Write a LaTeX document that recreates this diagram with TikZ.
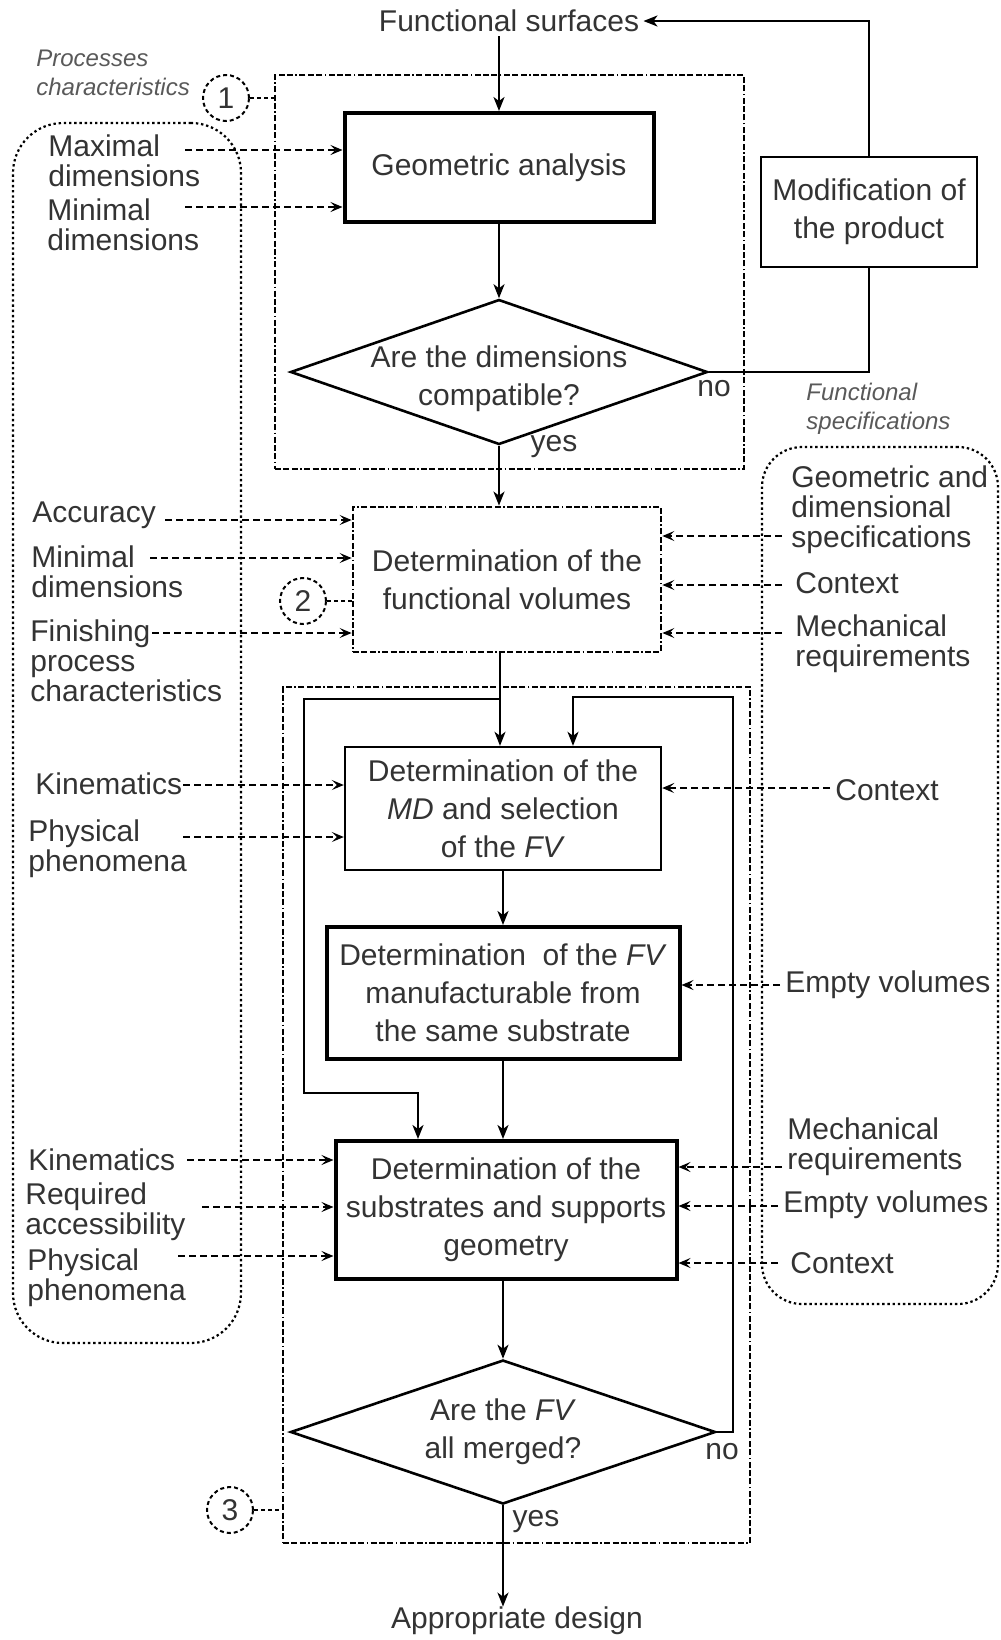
\documentclass[tikz,border=0pt]{standalone}
\usepackage{fontspec}
\setmainfont{Liberation Sans}
\usepackage{tikz}
\usetikzlibrary{positioning,calc,fit,arrows.meta,shapes.geometric}

\begin{document}
\begin{tikzpicture}[x=0.5pt,y=-0.5pt,
  every node/.style={text=black!80},
  box/.style={draw,line width=1.2pt,inner sep=2pt,align=center,font=\fontsize{15pt}{19pt}\selectfont},
  thickbox/.style={box,line width=2pt},
  decision/.style={draw,diamond,line width=1.3pt,inner sep=-4pt,shape aspect=2.9,align=center,font=\fontsize{15pt}{19pt}\selectfont},
  inlabel/.style={anchor=west,inner sep=0pt,align=left,font=\fontsize{15pt}{15pt}\selectfont},
  grouplabel/.style={anchor=west,inner sep=0pt,align=left,text=black!65,font=\fontsize{12pt}{14.5pt}\selectfont\itshape},
  flow/.style={line width=1.1pt,-{Stealth[length=7pt,width=5.5pt,inset=2pt]}},
  input/.style={line width=0.8pt,dash pattern=on 3.5pt off 2pt,-{Stealth[length=6pt,width=5pt,inset=2.5pt]}},
  frame/.style={line width=1.1pt,dash pattern=on 3pt off 1.2pt on 3pt off 1.2pt on 3pt off 1.2pt on 0.8pt off 1.2pt},
  group/.style={draw,line width=1.1pt,dash pattern=on 1.2pt off 1.4pt,rounded corners=25pt,inner sep=0pt},
  numcirc/.style={circle,draw,line width=1pt,dash pattern=on 2pt off 1.5pt,minimum size=23pt,inner sep=0pt,font=\fontsize{15pt}{15pt}\selectfont},
  tie/.style={line width=1pt,dash pattern=on 2pt off 1.5pt}
]
\useasboundingbox (0,0) rectangle (1001,1640);

% main flow
\node[inlabel,anchor=center,inner sep=2pt] (surf) at (509,21) {Functional surfaces};
\node[thickbox,minimum width=154.5pt,minimum height=54.5pt] (geo) at (499,167.5) {Geometric analysis};
\node[decision,minimum width=208.5pt,minimum height=72.5pt] (dims) at (499,372) {};
\node[box,draw=none,inner sep=0pt] (dimsq) at (499,379) {Are the dimensions\\compatible?};
\node[box,minimum width=108pt,minimum height=55pt] (mod) at (869,212) {Modification of\\the product};
\node[box,frame,line width=1.4pt,minimum width=154pt,minimum height=72.5pt] (func) at (507,579.5) {Determination of the\\functional volumes};
\node[box,minimum width=158pt,minimum height=61.5pt] (mdsel) at (503,808.5) {Determination of the\\\textit{MD} and selection\\of the \textit{FV}};
\node[thickbox,minimum width=176.5pt,minimum height=66pt] (manuf) at (503,993) {Determination\ \ of the \textit{FV}\\manufacturable from\\the same substrate};
\node[thickbox,minimum width=170.5pt,minimum height=69pt] (subst) at (506,1210) {Determination of the\\substrates and supports\\geometry};
\node[decision,minimum width=212.5pt,minimum height=72pt] (merged) at (503,1432) {Are the \textit{FV}\\all merged?};
\node[inlabel,anchor=center] (design) at (517,1621) {Appropriate design};

\node[inlabel,anchor=center] (dimsno) at (714,389) {no};
\node[inlabel,anchor=center] (dimsyes) at (554,447) {yes};
\node[inlabel,anchor=center] (mergedno) at (722,1452) {no};
\node[inlabel,anchor=center] (mergedyes) at (536,1522) {yes};

\coordinate (split) at (500,699);
\draw[flow] (surf.south -| geo.north) -- (geo.north);
\draw[flow] (geo.south) -- (dims.north);
\draw[flow] (dims.south) -- (dims.south |- func.north);
\draw[line width=1.1pt] (dims.east) -| (mod.south);
\draw[flow] (mod.north) |- (surf.east);
\draw[flow] (func.south -| split) -- (split |- mdsel.north);
\draw[flow] (mdsel.south) -- (mdsel.south |- manuf.north);
\draw[flow] (manuf.south) -- (manuf.south |- subst.north);
\draw[flow] (manuf.south |- subst.south) -- (merged.north);
\draw[flow] (merged.south) -- (merged.south |- design.north);

% loops of step 3
\draw[flow] (split) -| (304,1093) -| ($(subst.north)+(-88,0)$);
\draw[flow] (merged.east) -| (733,697) -| ($(mdsel.north)+(70,0)$);

% frames and groups
\node[frame,draw,inner sep=0pt,fit={(275,75) (744,469)}] (frame1) {};
\node[frame,draw,inner sep=0pt,fit={(283,687) (750,1543)}] (frame3) {};
\node[group,fit={(13,123) (241,1343)}] (procgrp) {};
\node[group,rounded corners=20pt,fit={(762,447) (998,1304)}] (specgrp) {};
\node[grouplabel] (proclabel) at (36,73) {Processes\\characteristics};
\node[grouplabel] (speclabel) at (806,409) {Functional\\specifications};

\node[numcirc] (c1) at (226,98) {1};
\draw[tie] (c1) -- (c1 -| frame1.west);
\node[numcirc] (c2) at (303,601) {2};
\draw[tie] (c2) -- (c2 -| func.west);
\node[numcirc] (c3) at (230,1510) {3};
\draw[tie] (c3) -- (c3 -| frame3.west);

% process characteristics
\node[inlabel] (maxdim) at (48,161) {Maximal\\dimensions};
\coordinate (omaxdim) at (185,150);
\draw[input] (omaxdim) -- (omaxdim -| geo.west);
\node[inlabel] (mindim) at (47,225) {Minimal\\dimensions};
\coordinate (omindim) at (185,207);
\draw[input] (omindim) -- (omindim -| geo.west);

\node[inlabel] (accur) at (32,515) {Accuracy};
\coordinate (oaccur) at (165,520);
\draw[input] (oaccur) -- (oaccur -| func.west);
\node[inlabel] (mindimb) at (31,572) {Minimal\\dimensions};
\coordinate (omindimb) at (150,558);
\draw[input] (omindimb) -- (omindimb -| func.west);
\node[inlabel] (finish) at (30,661) {Finishing\\process\\characteristics};
\coordinate (ofinish) at (152,633);
\draw[input] (ofinish) -- (ofinish -| func.west);

\node[inlabel] (kinema) at (35,784) {Kinematics};
\coordinate (okinema) at (183,785);
\draw[input] (okinema) -- (okinema -| mdsel.west);
\node[inlabel] (phys) at (28,849) {Physical\\phenomena};
\coordinate (ophys) at (183,837);
\draw[input] (ophys) -- (ophys -| mdsel.west);

\node[inlabel] (kinemb) at (28,1160) {Kinematics};
\coordinate (okinemb) at (187,1160);
\draw[input] (okinemb) -- (okinemb -| subst.west);
\node[inlabel] (access) at (25,1212) {Required\\accessibility};
\coordinate (oaccess) at (202,1207);
\draw[input] (oaccess) -- (oaccess -| subst.west);
\node[inlabel] (physb) at (27,1278) {Physical\\phenomena};
\coordinate (ophysb) at (178,1256);
\draw[input] (ophysb) -- (ophysb -| subst.west);

% functional specifications
\node[inlabel] (geospec) at (791,510) {Geometric and\\dimensional\\specifications};
\coordinate (ogeospec) at (782,536);
\draw[input] (ogeospec) -- (ogeospec -| func.east);
\node[inlabel] (ctx) at (795,583) {Context};
\coordinate (octx) at (782,585);
\draw[input] (octx) -- (octx -| func.east);
\node[inlabel] (mech) at (795,644) {Mechanical\\requirements};
\coordinate (omech) at (782,633);
\draw[input] (omech) -- (omech -| func.east);

\node[inlabel] (ctxb) at (835,790) {Context};
\coordinate (octxb) at (830,788);
\draw[input] (octxb) -- (octxb -| mdsel.east);
\node[inlabel] (empty) at (785,985) {Empty volumes};
\coordinate (oempty) at (780,985);
\draw[input] (oempty) -- (oempty -| manuf.east);

\node[inlabel] (mechb) at (787,1147) {Mechanical\\requirements};
\coordinate (omechb) at (782,1167);
\draw[input] (omechb) -- (omechb -| subst.east);
\node[inlabel] (emptyb) at (783,1205) {Empty volumes};
\coordinate (oemptyb) at (778,1206);
\draw[input] (oemptyb) -- (oemptyb -| subst.east);
\node[inlabel] (ctxc) at (790,1263) {Context};
\coordinate (octxc) at (778,1263);
\draw[input] (octxc) -- (octxc -| subst.east);
\end{tikzpicture}
\end{document}
